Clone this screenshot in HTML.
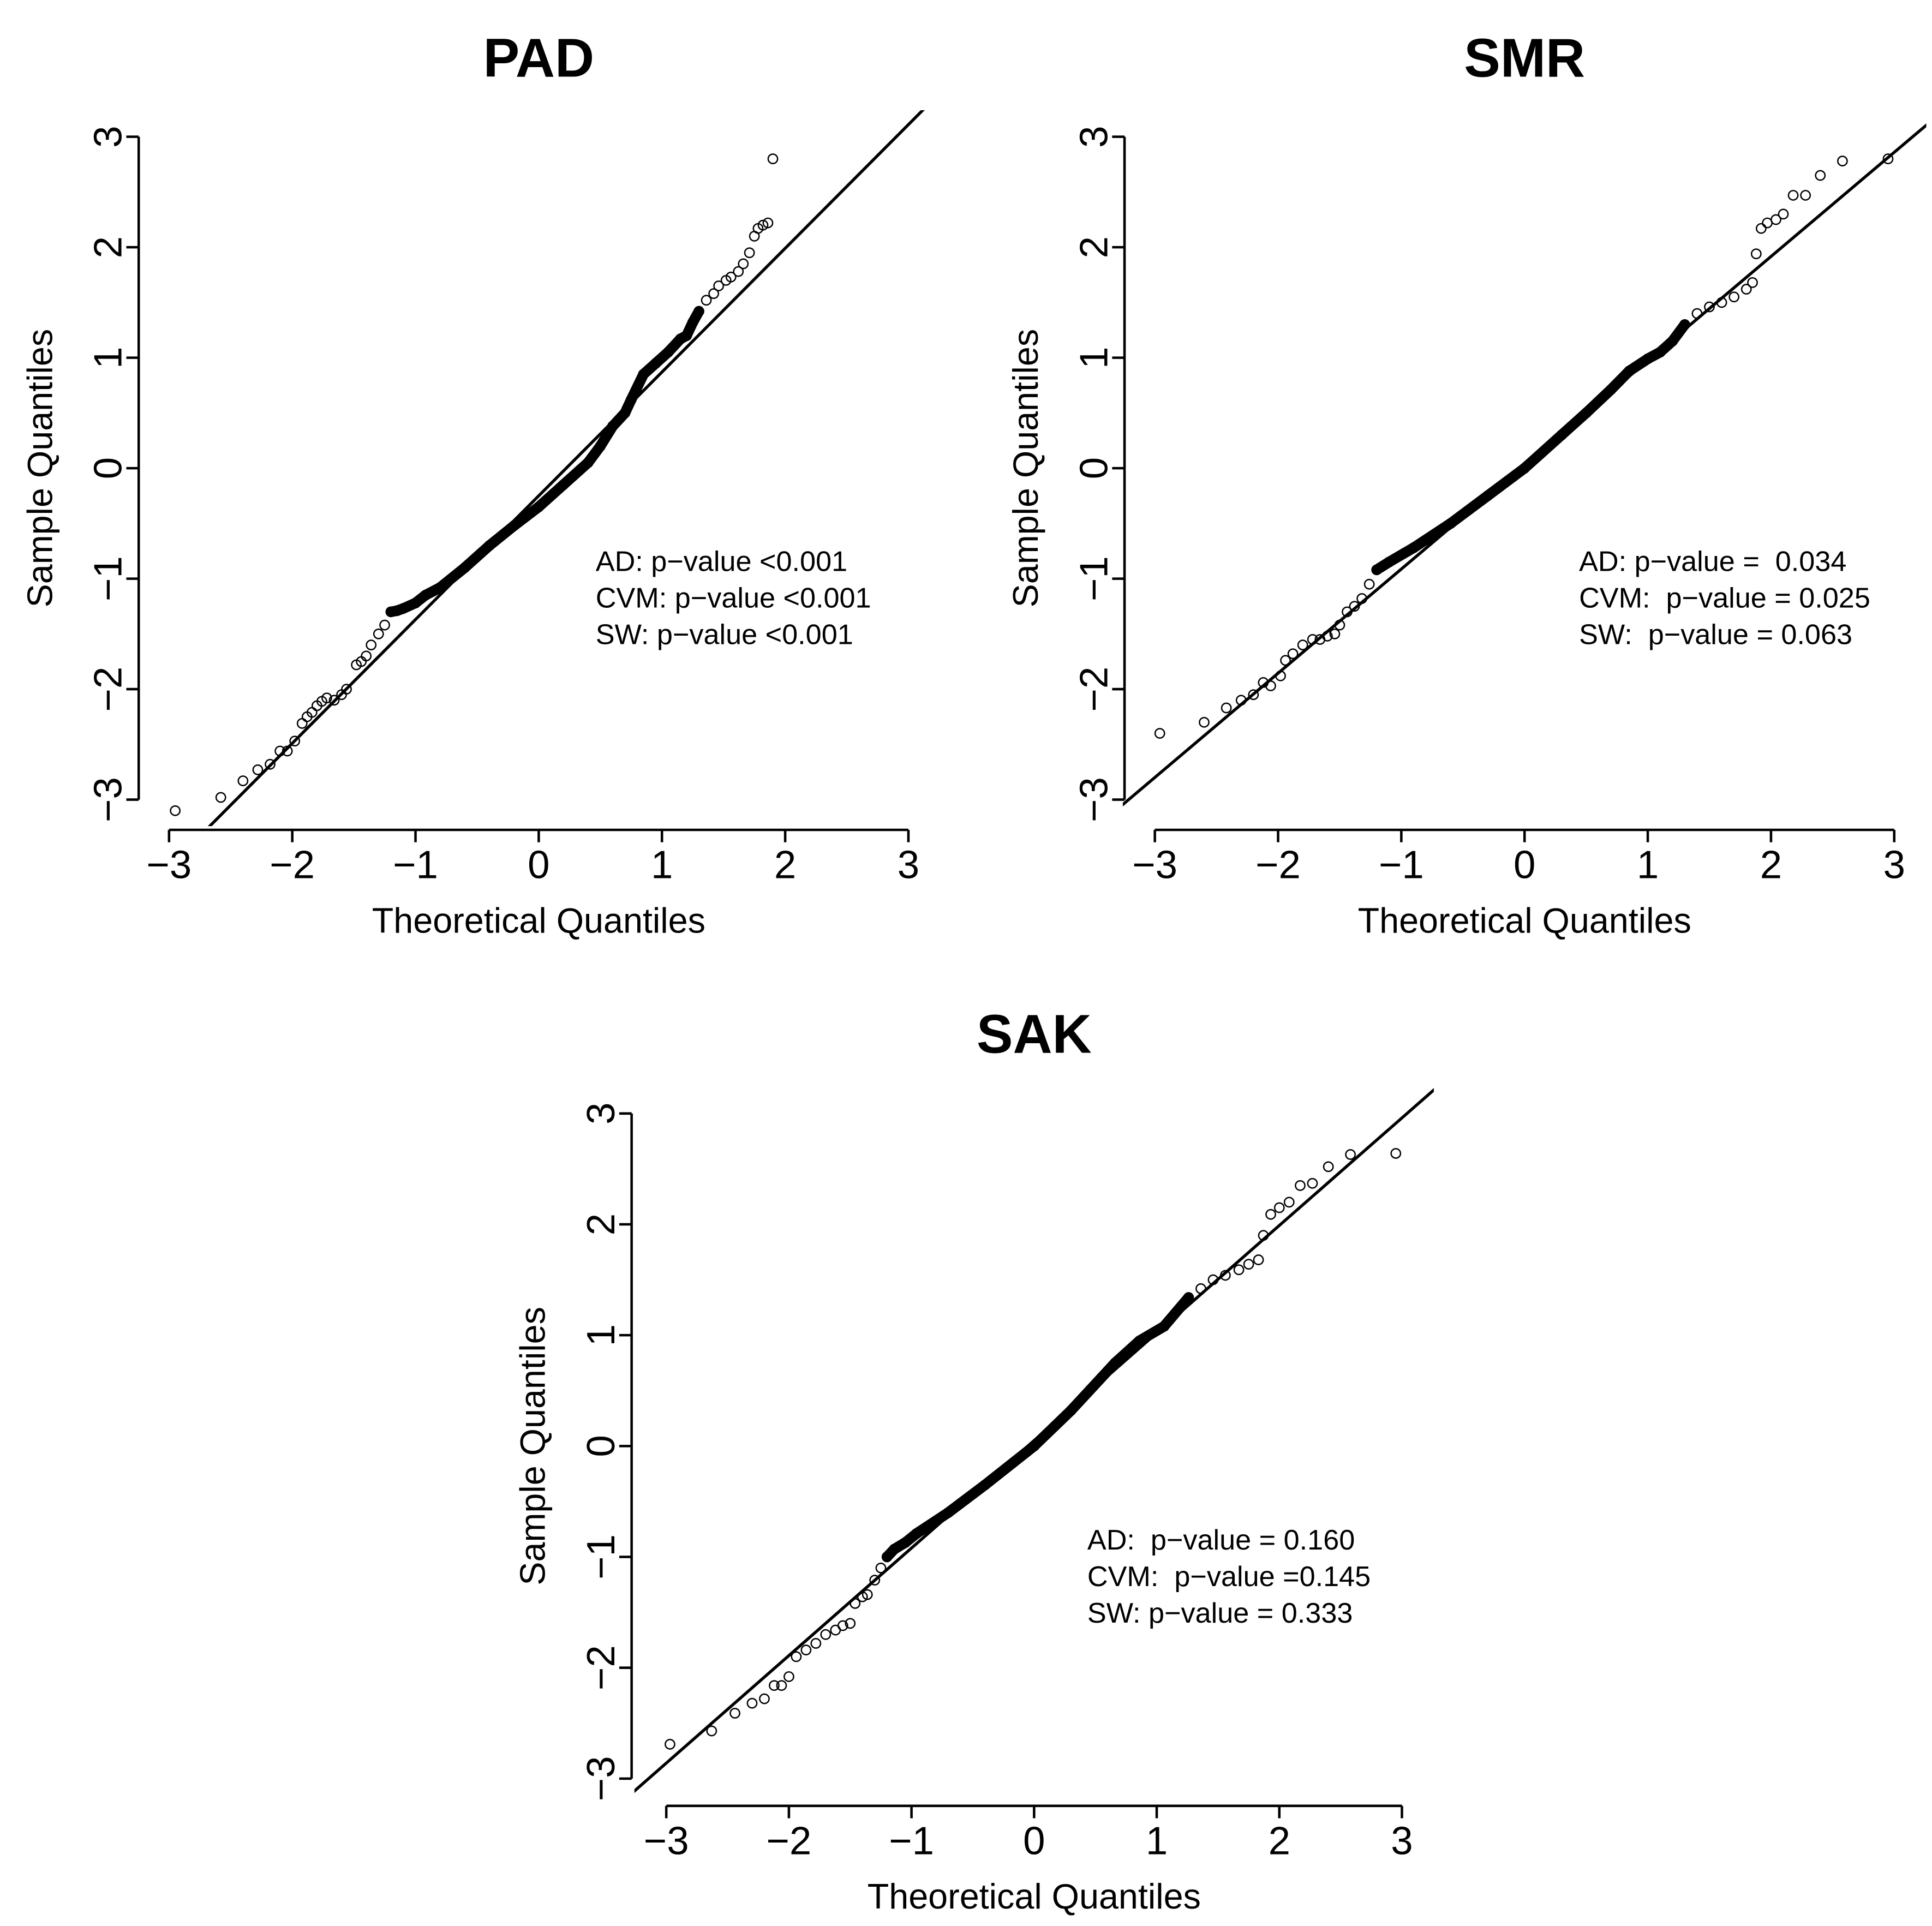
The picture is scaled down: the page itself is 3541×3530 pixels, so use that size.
<!DOCTYPE html>
<html><head><meta charset="utf-8"><style>
html,body{margin:0;padding:0;background:#fff}
svg{display:block}
text{font-family:"Liberation Sans",sans-serif;fill:#000;white-space:pre}
</style></head><body>
<svg id="chart" width="3541" height="3530" viewBox="0 0 1560 1555" preserveAspectRatio="none" xmlns="http://www.w3.org/2000/svg"></svg>
<script>
const titles = ["PAD","SMR","SAK"];
const xTicks = [-3,-2,-1,0,1,2,3];
const yTicks = [-3,-2,-1,0,1,2,3];
const padTheo = [-2.95,-2.58,-2.4,-2.28,-2.18,-2.1,-2.04,-1.98,-1.92,-1.88,-1.84,-1.8,-1.76,-1.72,-1.66,-1.6,-1.56,-1.48,-1.44,-1.4,-1.36,-1.3,-1.25,-1.2,-1.15,-1.1,-1.0,-0.92,-0.8,-0.6,-0.4,-0.2,0,0.2,0.4,0.5,0.6,0.7,0.75,0.85,0.95,1.05,1.15,1.2,1.25,1.3,1.36,1.42,1.46,1.52,1.56,1.62,1.66,1.71,1.75,1.78,1.82,1.86,1.9];
const padSample = [-3.1,-2.98,-2.83,-2.73,-2.68,-2.56,-2.56,-2.47,-2.31,-2.25,-2.21,-2.15,-2.11,-2.08,-2.1,-2.05,-2.0,-1.78,-1.75,-1.7,-1.6,-1.5,-1.42,-1.3,-1.29,-1.27,-1.22,-1.15,-1.08,-0.9,-0.7,-0.52,-0.35,-0.15,0.05,0.2,0.38,0.5,0.62,0.85,0.95,1.05,1.17,1.2,1.32,1.42,1.52,1.58,1.65,1.7,1.73,1.78,1.85,1.95,2.1,2.17,2.2,2.22,2.8];
const smrTheo = [-2.96,-2.6,-2.42,-2.3,-2.2,-2.12,-2.06,-1.98,-1.94,-1.88,-1.8,-1.72,-1.66,-1.6,-1.54,-1.5,-1.44,-1.38,-1.32,-1.26,-1.2,-1.1,-0.9,-0.6,-0.3,0,0.3,0.5,0.7,0.85,1.0,1.1,1.2,1.3,1.4,1.5,1.6,1.7,1.8,1.85,1.88,1.92,1.97,2.04,2.1,2.18,2.28,2.4,2.58,2.95];
const smrSample = [-2.4,-2.3,-2.17,-2.1,-2.05,-1.94,-1.97,-1.88,-1.74,-1.68,-1.6,-1.55,-1.55,-1.52,-1.5,-1.42,-1.3,-1.25,-1.18,-1.05,-0.92,-0.85,-0.72,-0.5,-0.25,0.0,0.3,0.5,0.71,0.88,0.99,1.05,1.15,1.3,1.4,1.46,1.5,1.55,1.62,1.68,1.94,2.17,2.22,2.25,2.3,2.47,2.47,2.65,2.78,2.8];
const sakTheo = [-2.97,-2.63,-2.44,-2.3,-2.2,-2.12,-2.06,-2.0,-1.94,-1.86,-1.78,-1.7,-1.62,-1.56,-1.5,-1.46,-1.4,-1.36,-1.3,-1.25,-1.2,-1.14,-1.05,-0.96,-0.7,-0.4,0,0.3,0.66,0.86,1.06,1.26,1.36,1.46,1.56,1.67,1.75,1.83,1.87,1.93,2.0,2.08,2.17,2.27,2.4,2.58,2.95];
const sakSample = [-2.69,-2.57,-2.41,-2.32,-2.28,-2.16,-2.16,-2.08,-1.9,-1.84,-1.78,-1.7,-1.66,-1.62,-1.6,-1.42,-1.36,-1.34,-1.21,-1.1,-1.0,-0.93,-0.87,-0.79,-0.6,-0.35,0,0.32,0.75,0.95,1.08,1.34,1.42,1.5,1.54,1.59,1.64,1.68,1.9,2.09,2.15,2.2,2.35,2.37,2.52,2.63,2.64];
const lineIntercepts = [-0.25,0.03,0.05];
const lineSlopes = [1.12,0.943,0.97];
const statsPAD = ["AD: p\u2212value <0.001","CVM: p\u2212value <0.001","SW: p\u2212value <0.001"];
const statsSMR = ["AD: p\u2212value =  0.034","CVM:  p\u2212value = 0.025","SW:  p\u2212value = 0.063"];
const statsSAK = ["AD:  p\u2212value = 0.160","CVM:  p\u2212value =0.145","SW: p\u2212value = 0.333"];

const NS="http://www.w3.org/2000/svg";
const svg=document.getElementById('chart');
function mk(tag,attrs,parent){const e=document.createElementNS(NS,tag);for(const k in attrs)e.setAttribute(k,attrs[k]);(parent||svg).appendChild(e);return e;}

const panels=[
 {key:'pad',theo:padTheo,samp:padSample,stats:statsPAD,ox:435,xs:99.5,oy:378,ys:89.2,ax:112,ay:670,tY:62,sx:481,sy:453},
 {key:'smr',theo:smrTheo,samp:smrSample,stats:statsSMR,ox:1231,xs:99.5,oy:378,ys:89.2,ax:908,ay:670,tY:62,sx:1275,sy:453},
 {key:'sak',theo:sakTheo,samp:sakSample,stats:statsSAK,ox:835,xs:99,oy:1167.5,ys:89.5,ax:510,ay:1458,tY:850,sx:878,sy:1243}
];
panels.forEach((p,i)=>{
 const g=mk('g',{});
 
 
 const X=v=>p.ox+v*p.xs, Y=v=>p.oy-v*p.ys;
 const t=mk('text',{x:p.ox,y:p.tY,'text-anchor':'middle','font-size':44,'font-weight':'bold'},g);
 t.textContent=titles[i];
 
 
 const xa=mk('g',{},g);
 
 
 mk('line',{x1:X(xTicks[0]),x2:X(xTicks[xTicks.length-1]),y1:p.ay,y2:p.ay,stroke:'#000','stroke-width':2},xa);
 xTicks.forEach(v=>{
  mk('line',{x1:X(v),x2:X(v),y1:p.ay,y2:p.ay+10,stroke:'#000','stroke-width':2},xa);
  const l=mk('text',{x:X(v),y:p.ay+39,'text-anchor':'middle','font-size':32},xa);
  l.textContent=(v<0?'\u2212'+(-v):String(v));
  
  
 });
 const xt=mk('text',{x:p.ox,y:p.ay+83,'text-anchor':'middle','font-size':28.5},g);
 xt.textContent='Theoretical Quantiles';
 
 
 const ya=mk('g',{},g);
 
 
 mk('line',{x1:p.ax,x2:p.ax,y1:Y(yTicks[0]),y2:Y(yTicks[yTicks.length-1]),stroke:'#000','stroke-width':2},ya);
 yTicks.forEach(v=>{
  mk('line',{x1:p.ax-10,x2:p.ax,y1:Y(v),y2:Y(v),stroke:'#000','stroke-width':2},ya);
  const lx=p.ax-14, ly=Y(v);
  const l=mk('text',{x:lx,y:ly,'text-anchor':'middle','font-size':32,transform:`rotate(-90 ${lx} ${ly})`},ya);
  l.textContent=(v<0?'\u2212'+(-v):String(v));
  
  
 });
 const yx=p.ax-70, yy=p.oy;
 const yt=mk('text',{x:yx,y:yy,'text-anchor':'middle','font-size':28.5,transform:`rotate(-90 ${yx} ${yy})`},g);
 yt.textContent='Sample Quantiles';
 
 
 const cid='clip'+i;
 const cp=mk('clipPath',{id:cid},g);
 mk('rect',{x:X(-3.26),y:Y(3.24),width:X(3.26)-X(-3.26),height:Y(-3.24)-Y(3.24)},cp);
 const a=lineIntercepts[i], b=lineSlopes[i];
 const ql=mk('line',{x1:X(-4),y1:Y(a+b*-4),x2:X(4),y2:Y(a+b*4),stroke:'#000','stroke-width':2.4,'clip-path':`url(#${cid})`},g);
 
 
 const cpts=[];
 p.theo.forEach((v,j)=>{ if(v>=-1.2&&v<=1.3) cpts.push(X(v)+','+Y(p.samp[j])); });
 const band=mk('polyline',{points:cpts.join(' '),fill:'none',stroke:'#000','stroke-width':8.5,'stroke-linejoin':'round','stroke-linecap':'round'},g);
 
 
 p.theo.forEach((v,j)=>{
  const c=mk('circle',{cx:X(v),cy:Y(p.samp[j]),r:3.8,fill:'none',stroke:'#000','stroke-width':1.1},g);
  
  
 });
 p.stats.forEach((s,k)=>{
  const st=mk('text',{x:p.sx,y:p.sy+k*29.5+8,'font-size':23},g);
  st.textContent=s;
  
  
 });
});
</script>
</body></html>
